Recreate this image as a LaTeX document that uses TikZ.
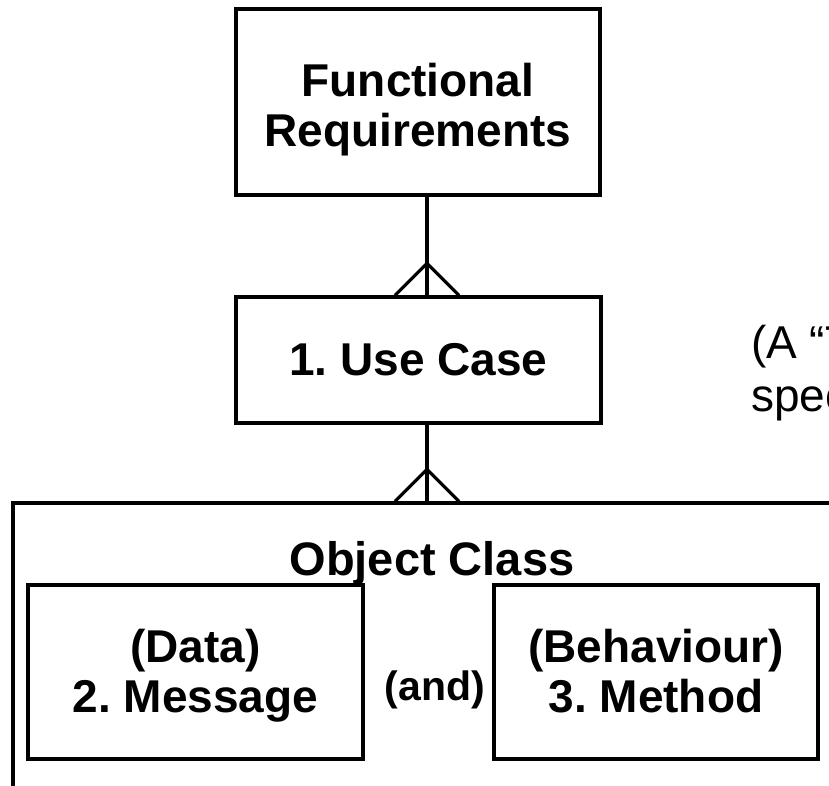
\documentclass[tikz,border=0pt]{standalone}
\usepackage{fontspec}
\setmainfont{Liberation Sans}
\usetikzlibrary{positioning,calc}
\frenchspacing

\begin{document}
\begin{tikzpicture}[
    x=1pt,y=-1pt,
    box/.style={draw,line width=3.2pt,inner sep=0pt,align=center,
      font=\bfseries\fontsize{46}{50}\selectfont},
    link/.style={line width=3.2pt},
    txt/.style={inner sep=0pt,anchor=base,font=\bfseries\fontsize{47}{50}\selectfont},
    note/.style={inner sep=0pt,anchor=base west,font=\fontsize{46}{54}\selectfont}
  ]
    \clip (0,0) rectangle (829,786);
    \coordinate (lnk) at (427,0);
    \node[box,minimum width=364,minimum height=186] (fr) at (418,102)
      {\rule{0pt}{50pt}Functional\\Requirements\rule[-10pt]{0pt}{0pt}};
    \node[box,minimum width=365,minimum height=126] (uc) at (418.5,360) {1. Use Case};
    \node[box,minimum width=887,minimum height=357] (oc) at (456.5,681.5) {};
    \node[txt] (octitle) at (432,575) {Object Class};
    \node[box,minimum width=335,minimum height=174] (msg) at (195.5,672)
      {\rule{0pt}{40pt}(Data)\\2. Message\rule[-10pt]{0pt}{0pt}};
    \node[box,minimum width=324,minimum height=174] (mth) at (656,672)
      {\rule{0pt}{40pt}(Behaviour)\\3. Method\rule[-10pt]{0pt}{0pt}};
    \node[txt,font=\bfseries\fontsize{41}{46}\selectfont] (and) at (435,700) {(and)};
    \node[note] (note1) at (751,358) {(A “T};
    \node[note] (note2) at (751,411) {spec};
    % one-to-many links
    \draw[link] (fr.south -| lnk) -- (uc.north -| lnk);
    \draw[link] ($(uc.north -| lnk)+(-32,0)$) -- ($(uc.north -| lnk)+(0,-32)$) -- ($(uc.north -| lnk)+(32,0)$);
    \draw[link] (uc.south -| lnk) -- (oc.north -| lnk);
    \draw[link] ($(oc.north -| lnk)+(-32,0)$) -- ($(oc.north -| lnk)+(0,-32)$) -- ($(oc.north -| lnk)+(32,0)$);
\end{tikzpicture}
\end{document}
